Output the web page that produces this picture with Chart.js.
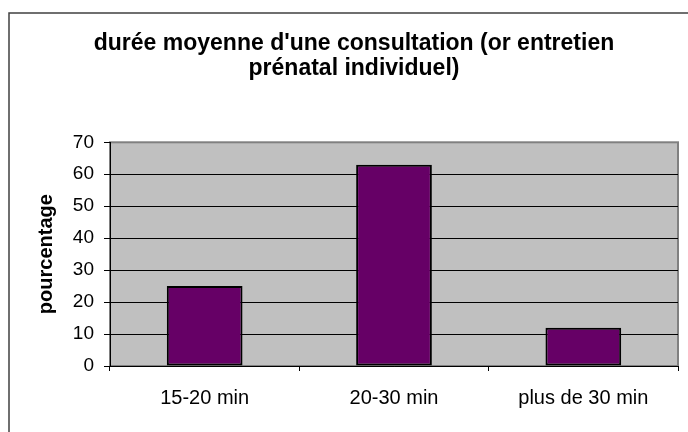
<!DOCTYPE html>
<html>
<head>
<meta charset="utf-8">
<script src="https://cdn.jsdelivr.net/npm/chart.js@4/dist/chart.umd.min.js"></script>
<style>
  html, body { margin: 0; padding: 0; background: #fff; overflow: hidden; }
  #wrap { width: 688px; height: 432px; position: relative; }
</style>
</head>
<body>
<div id="wrap"><canvas id="chart"></canvas></div>
<script>
const categories = ['15-20 min', '20-30 min', 'plus de 30 min'];
const pourcentage = [25, 63, 12];
const titleLines = ["durée moyenne d'une consultation (or entretien", 'prénatal individuel)'];
const yTitle = 'pourcentage';

const FONT = '"Liberation Sans", Arial, sans-serif';

// gray plot area + chart frame, like the old Excel look
const excelFrame = {
    id: 'excelFrame',
    beforeDraw(chart) {
        const ctx = chart.ctx;
        const a = chart.chartArea;
        ctx.save();
        ctx.strokeStyle = '#404040';
        ctx.lineWidth = 1.5;
        ctx.beginPath();
        ctx.moveTo(9, 432);
        ctx.lineTo(9, 13);
        ctx.lineTo(688, 13);
        ctx.stroke();
        ctx.fillStyle = '#c0c0c0';
        ctx.fillRect(a.left, a.top, a.right - a.left, a.bottom - a.top);
        ctx.strokeStyle = '#808080';
        ctx.lineWidth = 2;
        ctx.strokeRect(a.left, a.top, a.right - a.left, a.bottom - a.top);
        ctx.restore();
    }
};

new Chart(document.getElementById('chart').getContext('2d'), {
    type: 'bar',
    data: {
        labels: categories,
        datasets: [{
            label: yTitle,
            data: pourcentage,
            backgroundColor: '#660066',
            borderColor: '#000000',
            borderWidth: 2,
            borderSkipped: false,
            barPercentage: 0.4,
            categoryPercentage: 1
        }]
    },
    plugins: [excelFrame],
    options: {
        responsive: true,
        maintainAspectRatio: false,
        animation: false,
        layout: { padding: { left: 30, right: 10, top: 0, bottom: 0 } },
        plugins: {
            legend: { display: false },
            tooltip: { enabled: false },
            title: {
                display: true,
                text: titleLines,
                color: '#000',
                font: { family: FONT, size: 23, weight: 'bold', lineHeight: 1.05 },
                padding: { top: 32, bottom: 62 }
            }
        },
        scales: {
            x: {
                afterFit: function (scale) { scale.height = 66; },
                grid: {
                    offset: true,
                    drawOnChartArea: false,
                    drawTicks: true,
                    tickLength: 5,
                    color: '#000'
                },
                border: { color: '#000', width: 1 },
                ticks: {
                    color: '#000',
                    padding: 15,
                    maxRotation: 0,
                    font: { family: FONT, size: 20 }
                }
            },
            y: {
                min: 0,
                max: 70,
                afterFit: function (scale) { scale.width = 80; },
                grid: {
                    color: function (ctx) {
                        return ctx.tick && ctx.tick.value === 70 ? '#808080' : '#000';
                    },
                    tickColor: '#000',
                    tickLength: 6,
                    lineWidth: 1
                },
                border: { color: '#000', width: 1 },
                ticks: {
                    stepSize: 10,
                    color: '#000',
                    padding: 10,
                    font: { family: FONT, size: 19 }
                },
                title: {
                    display: true,
                    text: yTitle,
                    color: '#000',
                    padding: { top: 4, bottom: 0 },
                    font: { family: FONT, size: 20, weight: 'bold' }
                }
            }
        }
    }
});
</script>
</body>
</html>
